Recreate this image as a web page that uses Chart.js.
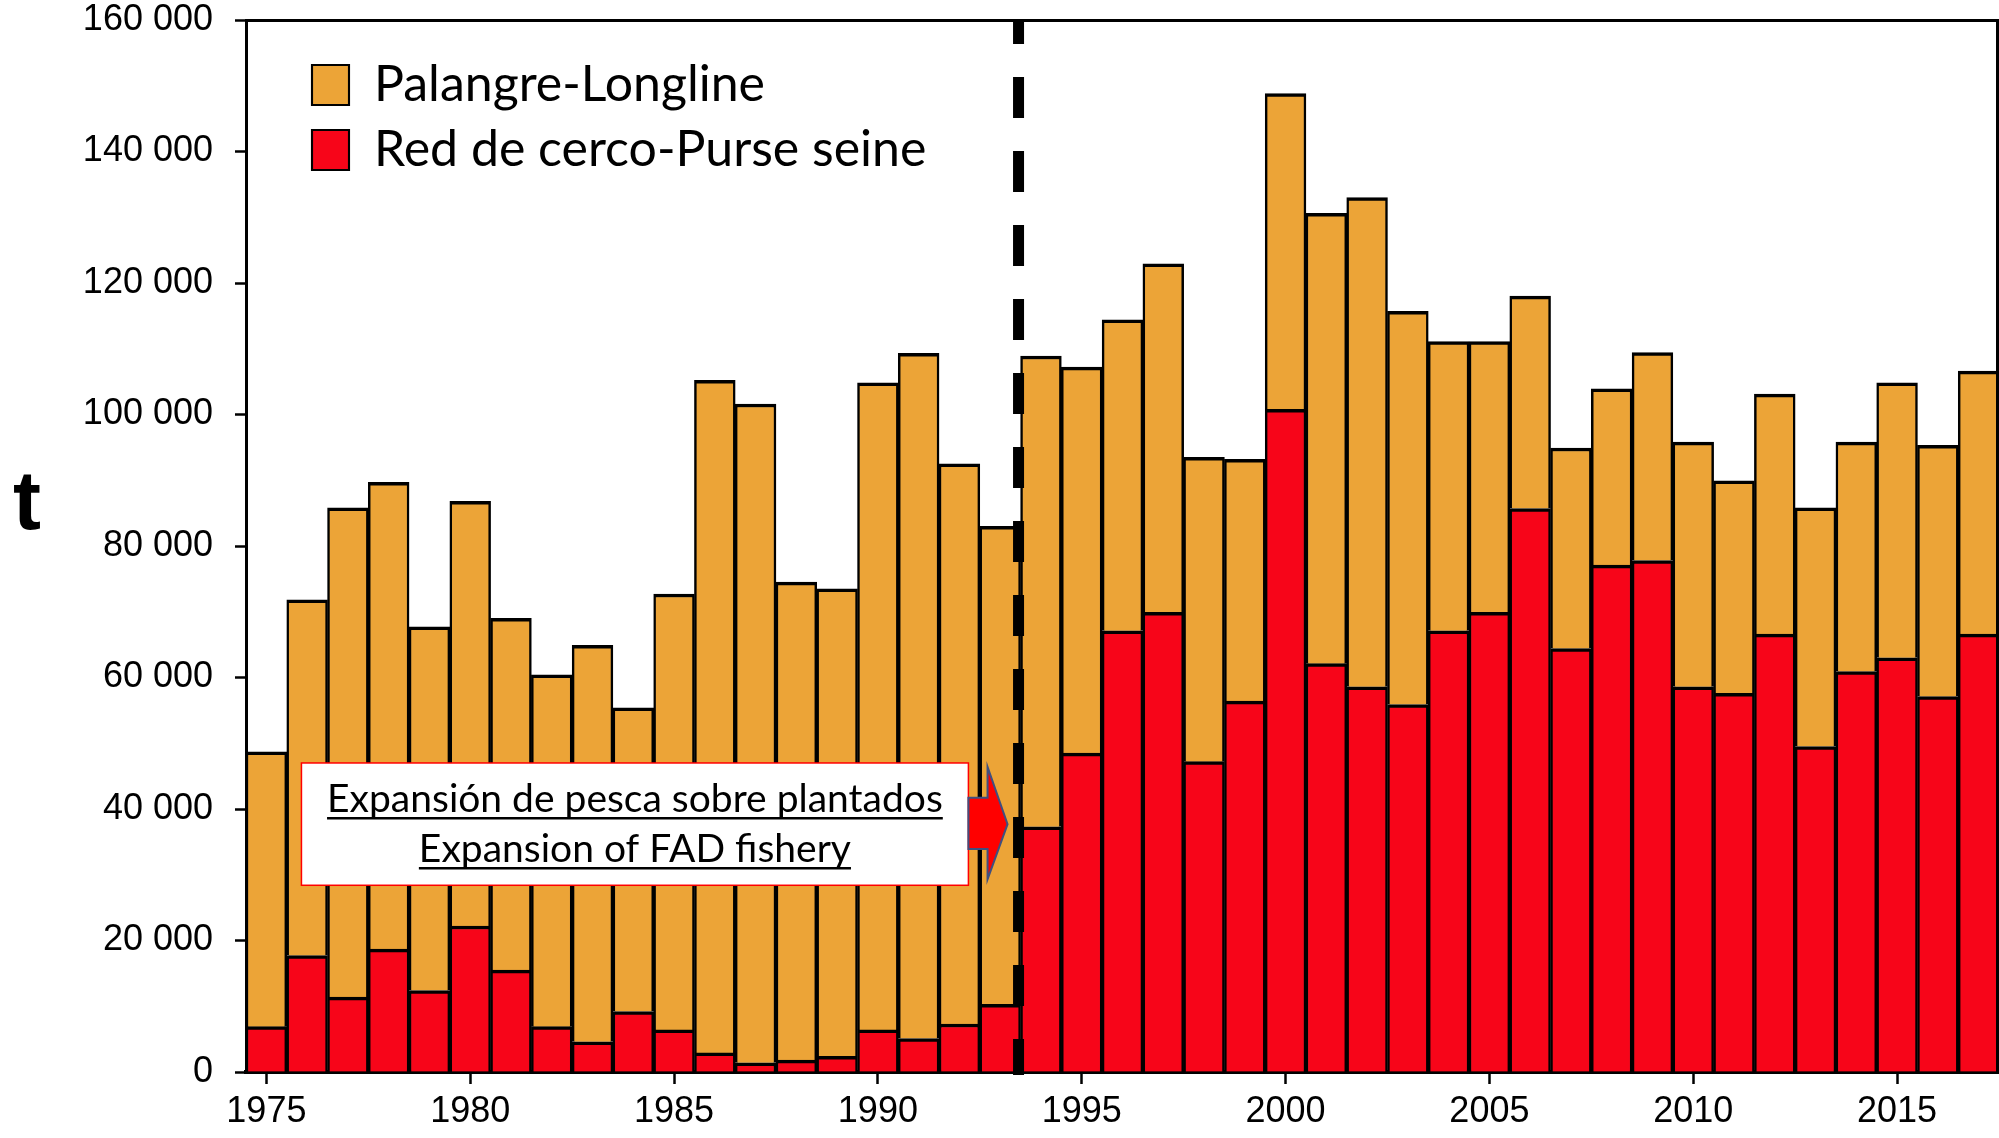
<!DOCTYPE html>
<html>
<head>
<meta charset="utf-8">
<title>Capturas por arte de pesca</title>
<script src="https://cdn.jsdelivr.net/npm/chart.js@4.4.1/dist/chart.umd.min.js"></script>
<style>
  html, body { margin: 0; padding: 0; background: #fff; }
  #wrap { width: 1999px; height: 1138px; }
</style>
</head>
<body>
<div id="wrap"><canvas id="catchChart"></canvas></div>
<script>
// years on the x axis
const years = [1975, 1976, 1977, 1978, 1979, 1980, 1981, 1982, 1983, 1984,
               1985, 1986, 1987, 1988, 1989, 1990, 1991, 1992, 1993, 1994,
               1995, 1996, 1997, 1998, 1999, 2000, 2001, 2002, 2003, 2004,
               2005, 2006, 2007, 2008, 2009, 2010, 2011, 2012, 2013, 2014,
               2015, 2016, 2017];

// red de cerco / purse seine (t), bottom of the stack
const purseSeine = [6900, 17700, 11400, 18700, 12400, 22200, 15500, 6900, 4600, 9200,
                    6400, 2900, 1400, 1800, 2400, 6400, 5100, 7300, 10300, 37300,
                    48500, 67100, 69900, 47200, 56400, 100800, 62100, 58600, 55900, 67100,
                    69900, 85700, 64400, 77100, 77800, 58600, 57600, 66600, 49500, 60900,
                    63000, 57100, 66600];

// palangre / longline (t), on top
const longline = [41800, 54100, 74400, 71000, 55300, 64600, 53500, 53500, 60300, 46200,
                  66300, 102300, 100200, 72700, 71100, 98400, 104200, 85200, 72700, 71600,
                  58700, 47300, 53000, 46300, 36800, 48000, 68500, 74400, 59800, 44000,
                  41200, 32300, 30500, 26800, 31600, 37200, 32300, 36500, 36300, 34900,
                  41800, 38200, 40000];

const yTicks = [0, 20000, 40000, 60000, 80000, 100000, 120000, 140000, 160000];

// FAD note, placed in data units (x = year index, y = tonnes)
const fadLineIndex = 18.45;
const fadBox = { x0: 0.86, x1: 17.22, yTop: 47000, yBottom: 28400 };
const fadText = ['Expansión de pesca sobre plantados', 'Expansion of FAD fishery'];
const fadTextBase = [39500, 31900];
const fadArrow = { xStart: 17.22, xNeck: 17.69, xTip: 18.18,
                   shaftTop: 41700, shaftBottom: 33900,
                   headTop: 46400, headBottom: 29300, tipY: 37700 };

const ORANGE = '#ECA437';
const RED = '#F70519';

function fmt(v) {
  return String(v).replace(/\B(?=(\d{3})+(?!\d))/g, ' ');
}

const decorations = {
  id: 'decorations',
  afterLayout(chart) {
    // move the legend into the upper-left of the plot
    const lg = chart.legend;
    if (lg) { lg.left += 51; lg.top += 45; }
  },
  afterDatasetsDraw(chart) {
    const {ctx, chartArea: a, scales: {x, y}} = chart;
    ctx.save();

    // frame: top and right sides
    ctx.strokeStyle = '#000';
    ctx.lineWidth = 3;
    ctx.beginPath();
    ctx.moveTo(a.left, a.top + 0.5);
    ctx.lineTo(a.right - 1.5, a.top + 0.5);
    ctx.lineTo(a.right - 1.5, a.bottom);
    ctx.stroke();

    // dashed line at the start of the FAD fishery
    const lx = x.getPixelForValue(fadLineIndex);
    ctx.setLineDash([41, 33]);
    ctx.lineDashOffset = a.top - 3;
    ctx.lineWidth = 11;
    ctx.beginPath();
    ctx.moveTo(lx, a.top);
    ctx.lineTo(lx, a.bottom + 3);
    ctx.stroke();
    ctx.setLineDash([]);

    // note box
    const bx0 = x.getPixelForValue(fadBox.x0), bx1 = x.getPixelForValue(fadBox.x1);
    const by0 = y.getPixelForValue(fadBox.yTop), by1 = y.getPixelForValue(fadBox.yBottom);
    ctx.fillStyle = '#fff';
    ctx.fillRect(bx0, by0, bx1 - bx0, by1 - by0);
    ctx.strokeStyle = '#FF0000';
    ctx.lineWidth = 1.5;
    ctx.strokeRect(bx0, by0, bx1 - bx0, by1 - by0);

    ctx.fillStyle = '#000';
    ctx.strokeStyle = '#000';
    ctx.font = '39px Lato';
    ctx.textAlign = 'center';
    ctx.textBaseline = 'alphabetic';
    const cx = (bx0 + bx1) / 2;
    fadText.forEach((t, i) => {
      const by = y.getPixelForValue(fadTextBase[i]);
      ctx.fillText(t, cx, by);
      const w = ctx.measureText(t).width;
      ctx.lineWidth = 2.5;
      ctx.beginPath();
      ctx.moveTo(cx - w / 2, by + 6);
      ctx.lineTo(cx + w / 2, by + 6);
      ctx.stroke();
    });

    // block arrow
    const ar = fadArrow;
    const px = v => x.getPixelForValue(v), py = v => y.getPixelForValue(v);
    ctx.beginPath();
    ctx.moveTo(px(ar.xStart), py(ar.shaftTop));
    ctx.lineTo(px(ar.xNeck), py(ar.shaftTop));
    ctx.lineTo(px(ar.xNeck), py(ar.headTop));
    ctx.lineTo(px(ar.xTip), py(ar.tipY));
    ctx.lineTo(px(ar.xNeck), py(ar.headBottom));
    ctx.lineTo(px(ar.xNeck), py(ar.shaftBottom));
    ctx.lineTo(px(ar.xStart), py(ar.shaftBottom));
    ctx.closePath();
    ctx.fillStyle = '#FF0000';
    ctx.fill();
    ctx.strokeStyle = '#3F4F7F';
    ctx.lineWidth = 2;
    ctx.stroke();

    ctx.restore();
  },
  afterDraw(chart) {
    // unrotated axis title "t"
    const {ctx} = chart;
    ctx.save();
    ctx.fillStyle = '#000';
    ctx.font = 'bold 84px "Liberation Sans"';
    ctx.textAlign = 'center';
    ctx.textBaseline = 'alphabetic';
    ctx.fillText('t', 27, 529);
    ctx.restore();
  }
};

const tickFont = { family: 'Liberation Sans', size: 36 };
const barBorder = { top: 3.5, left: 2.5, right: 2.5, bottom: 0 };

new Chart(document.getElementById('catchChart'), {
  type: 'bar',
  data: {
    labels: years.map(String),
    datasets: [
      {
        label: 'Red de cerco-Purse seine',
        data: purseSeine,
        backgroundColor: RED,
        borderColor: '#000',
        borderWidth: barBorder,
        borderSkipped: false
      },
      {
        label: 'Palangre-Longline',
        data: longline,
        backgroundColor: ORANGE,
        borderColor: '#000',
        borderWidth: barBorder,
        borderSkipped: false
      }
    ]
  },
  options: {
    responsive: true,
    maintainAspectRatio: false,
    animation: false,
    devicePixelRatio: 1,
    datasets: { bar: { barPercentage: 1, categoryPercentage: 1 } },
    layout: { padding: { top: 0, right: 0, bottom: 0, left: 0 } },
    plugins: {
      tooltip: { enabled: false },
      legend: {
        position: 'chartArea',
        align: 'start',
        reverse: true,
        labels: {
          boxWidth: 37,
          boxHeight: 40,
          padding: 15,
          color: '#000',
          font: { family: 'Lato', size: 50 }
        }
      }
    },
    scales: {
      x: {
        type: 'category',
        offset: true,
        stacked: true,
        grid: {
          offset: false,
          drawOnChartArea: false,
          drawTicks: true,
          tickLength: 12,
          tickWidth: 2.5,
          tickColor: c => (years[c.index] % 5 === 0 ? '#000' : 'rgba(0,0,0,0)')
        },
        border: { display: true, color: '#000', width: 4 },
        ticks: {
          autoSkip: false,
          maxRotation: 0,
          color: '#000',
          padding: 6,
          font: tickFont,
          callback: (v, i) => (years[i] % 5 === 0 ? String(years[i]) : '')
        },
        afterFit: s => { s.height = 66; }
      },
      y: {
        stacked: true,
        min: 0,
        max: 160000,
        grid: {
          drawOnChartArea: false,
          tickLength: 11,
          tickWidth: 2.5,
          tickColor: '#000'
        },
        border: { display: true, color: '#000', width: 3 },
        ticks: {
          color: '#000',
          padding: 22,
          font: tickFont,
          callback: v => fmt(v)
        },
        afterBuildTicks: s => { s.ticks = yTicks.map(v => ({ value: v })); },
        afterFit: s => { s.width = 246; s.paddingTop = 20; s.paddingBottom = 0; }
      }
    }
  },
  plugins: [decorations]
});
</script>
</body>
</html>
